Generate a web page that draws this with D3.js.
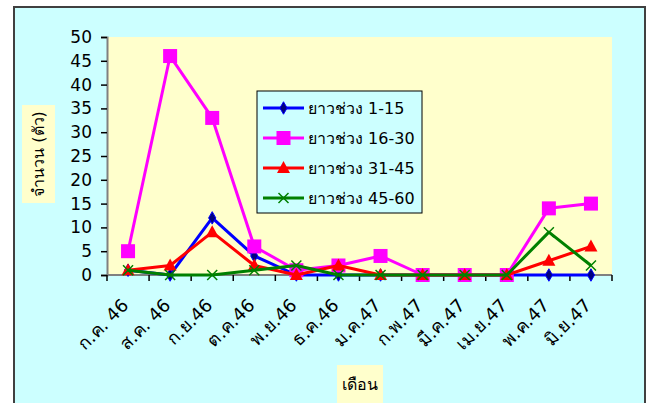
<!DOCTYPE html>
<html>
<head>
<meta charset="utf-8">
<script src="https://cdn.jsdelivr.net/npm/d3@7"></script>
<style>
  body { margin: 0; background: #fff; }
  svg text { font-family: Tahoma, "DejaVu Sans", "Noto Sans", sans-serif; fill: #000; }
</style>
</head>
<body>
<div id="chart"></div>
<script>
// months (Thai)
var months = ["ก.ค. 46", "ส.ค. 46", "ก.ย.46", "ต.ค.46", "พ.ย.46", "ธ.ค.46",
              "ม.ค.47", "ก.พ.47", "มี.ค.47", "เม.ย.47", "พ.ค.47", "มิ.ย.47"];
var seriesNames = ["ยาวช่วง 1-15", "ยาวช่วง 16-30", "ยาวช่วง 31-45", "ยาวช่วง 45-60"];
var len1_15  = [1, 0, 12, 4, 0, 0, 0, 0, 0, 0, 0, 0];
var len16_30 = [5, 46, 33, 6, 1, 2, 4, 0, 0, 0, 14, 15];
var len31_45 = [1, 2, 9, 2, 0, 2, 0, 0, 0, 0, 3, 6];
var len45_60 = [1, 0, 0, 1, 2, 0, 0, 0, 0, 0, 9, 2];
var yTicks = [0, 5, 10, 15, 20, 25, 30, 35, 40, 45, 50];

var allSeries = [len1_15, len16_30, len31_45, len45_60];
var colors = ["#0000FF", "#FF00FF", "#FF0000", "#008000"];
var markers = ["diamond", "square", "triangle", "cross"];

var W = 656, H = 403;
var svg = d3.select("#chart").append("svg").attr("width", W).attr("height", H);

// chart area
svg.append("rect").attr("x", 14).attr("y", 7).attr("width", 631).attr("height", 400)
  .attr("fill", "#CCFFFF").attr("stroke", "#404040").attr("stroke-width", 2);

var plot = { left: 107, top: 37, right: 612, bottom: 275 };

svg.append("rect").attr("x", plot.left).attr("y", plot.top)
  .attr("width", plot.right - plot.left).attr("height", plot.bottom - plot.top)
  .attr("fill", "#FFFFCC");

var x = d3.scaleBand().domain(months).range([plot.left, plot.right]);
var y = d3.scaleLinear().domain([0, 50]).range([plot.bottom, plot.top]);

// y axis
var yAxis = svg.append("g").attr("transform", "translate(" + plot.left + ",0)")
  .call(d3.axisLeft(y).tickValues(yTicks).tickSize(6).tickPadding(9));
yAxis.select(".domain").attr("stroke", "#808080").attr("stroke-width", 2);
yAxis.selectAll(".tick line").attr("stroke", "#000").attr("stroke-width", 1.5);
yAxis.selectAll(".tick text").attr("font-size", 17).attr("font-family", "Tahoma, 'DejaVu Sans', sans-serif");

// x axis line + ticks at category boundaries
var xg = svg.append("g");
xg.append("line").attr("x1", plot.left).attr("x2", plot.right)
  .attr("y1", plot.bottom).attr("y2", plot.bottom)
  .attr("stroke", "#808080").attr("stroke-width", 2);
var bounds = months.map(function(m) { return x(m); }).concat([plot.right]);
xg.selectAll(".xt").data(bounds).enter().append("line")
  .attr("x1", function(d) { return d; }).attr("x2", function(d) { return d; })
  .attr("y1", plot.bottom).attr("y2", plot.bottom + 6)
  .attr("stroke", "#000").attr("stroke-width", 1.5);
xg.selectAll(".xl").data(months).enter().append("text")
  .attr("transform", function(d) {
    return "translate(" + (x(d) + x.bandwidth() / 2 - 3) + "," + (plot.bottom + 27) + ") rotate(-45)";
  })
  .attr("text-anchor", "end").attr("dy", "0.35em")
  .attr("font-size", 18)
  .text(function(d) { return d; });

function drawMarker(g, type, color, cx, cy) {
  if (type === "diamond") {
    g.append("path").attr("d", d3.symbol(d3.symbolDiamond, 45)())
      .attr("transform", "translate(" + cx + "," + cy + ")").attr("fill", "#000080")
      .attr("stroke", color).attr("stroke-width", 1);
  } else if (type === "square") {
    g.append("rect").attr("x", cx - 7).attr("y", cy - 7).attr("width", 14).attr("height", 14)
      .attr("fill", color);
  } else if (type === "triangle") {
    g.append("path").attr("d", "M" + cx + "," + (cy - 7) + "L" + (cx + 6.5) + "," + (cy + 5) + "L" + (cx - 6.5) + "," + (cy + 5) + "Z")
      .attr("fill", color);
  } else {
    g.append("path").attr("d", "M" + (cx - 5) + "," + (cy - 5) + "L" + (cx + 5) + "," + (cy + 5) +
      "M" + (cx + 5) + "," + (cy - 5) + "L" + (cx - 5) + "," + (cy + 5))
      .attr("stroke", color).attr("stroke-width", 1.5).attr("fill", "none");
  }
}

var line = d3.line()
  .x(function(d, i) { return x(months[i]) + x.bandwidth() / 2; })
  .y(function(d) { return y(d); });

allSeries.forEach(function(s, k) {
  var g = svg.append("g");
  g.append("path").datum(s).attr("d", line).attr("fill", "none")
    .attr("stroke", colors[k]).attr("stroke-width", 3).attr("stroke-linejoin", "round");
  s.forEach(function(v, i) {
    drawMarker(g, markers[k], colors[k], x(months[i]) + x.bandwidth() / 2, y(v));
  });
});

// legend
var lg = svg.append("g");
lg.append("rect").attr("x", 257).attr("y", 91).attr("width", 165).attr("height", 122)
  .attr("fill", "#CCFFFF").attr("stroke", "#000").attr("stroke-width", 1);
seriesNames.forEach(function(name, k) {
  var ly = 108 + k * 30;
  lg.append("line").attr("x1", 263).attr("x2", 304).attr("y1", ly).attr("y2", ly)
    .attr("stroke", colors[k]).attr("stroke-width", 3);
  drawMarker(lg, markers[k], colors[k], 283.5, ly);
  lg.append("text").attr("x", 308).attr("y", ly).attr("dy", "0.35em")
    .attr("font-size", 16).text(name);
});

// axis titles
svg.append("rect").attr("x", 22).attr("y", 105).attr("width", 33).attr("height", 98).attr("fill", "#FFFFCC");
svg.append("text").attr("transform", "translate(38.5,154) rotate(-90)")
  .attr("text-anchor", "middle").attr("dy", "0.35em").attr("font-size", 16)
  .text("จำนวน (ตัว)");

svg.append("rect").attr("x", 337).attr("y", 365).attr("width", 46).attr("height", 38).attr("fill", "#FFFFCC");
svg.append("text").attr("x", 360).attr("y", 384).attr("text-anchor", "middle").attr("dy", "0.35em")
  .attr("font-size", 16).text("เดือน");
</script>
</body>
</html>
